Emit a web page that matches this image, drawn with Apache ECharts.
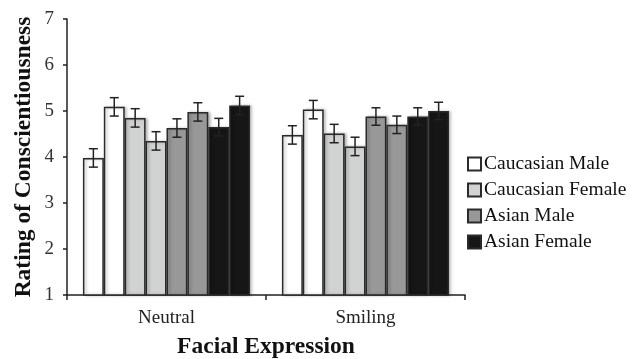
<!DOCTYPE html>
<html>
<head>
<meta charset="utf-8">
<script src="https://cdn.jsdelivr.net/npm/echarts@6/dist/echarts.min.js"></script>
<style>
  html, body { margin: 0; padding: 0; background: #fff; }
  #chart { width: 643px; height: 359px; }
</style>
</head>
<body>
<div id="chart"></div>
<script>
(function () {
    var myChart = echarts.init(document.getElementById('chart'));

    let categories = ['Neutral', 'Smiling'];
    let groupNames = ['Caucasian Male', 'Caucasian Female', 'Asian Male', 'Asian Female'];
    let groupColors = ['#ffffff', '#d1d3d2', '#989898', '#161616'];
    // two bars per group in each category, left to right
    let barGroup = [0, 0, 1, 1, 2, 2, 3, 3];
    let barValues = [
        [3.98, 4.48],
        [5.09, 5.03],
        [4.85, 4.51],
        [4.35, 4.23],
        [4.63, 4.88],
        [4.98, 4.70],
        [4.65, 4.88],
        [5.12, 5.00]
    ];
    let barErrors = [
        [0.20, 0.20],
        [0.20, 0.20],
        [0.20, 0.20],
        [0.20, 0.20],
        [0.20, 0.19],
        [0.20, 0.19],
        [0.19, 0.19],
        [0.20, 0.19]
    ];
    let yTicks = [1, 7, 1]; // min, max, interval

    const font = '"Liberation Serif", "Times New Roman", serif';
    const ink = '#222';
    const catGap = 0.16;
    const nBars = barValues.length;

    let series = [];
    for (let i = 0; i < nBars; i++) {
        series.push({
            name: groupNames[barGroup[i]],
            type: 'bar',
            barGap: 0,
            barCategoryGap: (catGap * 100) + '%',
            itemStyle: {
                color: groupColors[barGroup[i]],
                borderColor: '#2a2a2a',
                borderWidth: 1.5,
                shadowColor: 'rgba(0,0,0,0.25)',
                shadowBlur: 3,
                shadowOffsetX: 2,
                shadowOffsetY: 0
            },
            emphasis: { disabled: true },
            data: barValues[i]
        });
    }

    let errData = [];
    for (let i = 0; i < nBars; i++) {
        for (let c = 0; c < categories.length; c++) {
            errData.push([c, i, barValues[i][c] - barErrors[i][c], barValues[i][c] + barErrors[i][c]]);
        }
    }

    series.push({
        type: 'custom',
        silent: true,
        z: 5,
        renderItem: function (params, api) {
            let c = api.value(0);
            let i = api.value(1);
            let band = api.size([1, 0])[0];
            let barW = band * (1 - catGap) / nBars;
            let lo = api.coord([c, api.value(2)]);
            let hi = api.coord([c, api.value(3)]);
            let x = lo[0] + (i - (nBars - 1) / 2) * barW;
            let cap = 4.5;
            let style = { stroke: ink, lineWidth: 1.5 };
            return {
                type: 'group',
                children: [
                    { type: 'line', shape: { x1: x, y1: lo[1], x2: x, y2: hi[1] }, style: style },
                    { type: 'line', shape: { x1: x - cap, y1: lo[1], x2: x + cap, y2: lo[1] }, style: style },
                    { type: 'line', shape: { x1: x - cap, y1: hi[1], x2: x + cap, y2: hi[1] }, style: style }
                ]
            };
        },
        data: errData
    });

    var option = {
        animation: false,
        textStyle: { fontFamily: font },
        grid: {
            left: 67,
            right: 178,
            top: 19,
            bottom: 64,
            outerBoundsMode: 'none',
            containLabel: false
        },
        legend: {
            data: groupNames,
            orient: 'vertical',
            left: 467,
            top: 154,
            padding: 0,
            itemWidth: 13,
            itemHeight: 13,
            itemGap: 6,
            icon: 'rect',
            selectedMode: false,
            textStyle: { fontFamily: font, fontSize: 19.5, color: '#111', padding: [0, 0, 0, -2] }
        },
        xAxis: {
            type: 'category',
            data: categories,
            name: 'Facial Expression',
            nameLocation: 'middle',
            nameGap: 40,
            nameMoveOverlap: false,
            nameTextStyle: { fontFamily: font, fontSize: 23.5, fontWeight: 'bold', color: '#111' },
            axisLine: { lineStyle: { color: ink, width: 1.5 } },
            axisTick: { show: true, length: 5, lineStyle: { color: ink, width: 1.5 } },
            axisLabel: { fontFamily: font, fontSize: 19, color: '#222', margin: 14 }
        },
        yAxis: {
            type: 'value',
            min: yTicks[0],
            max: yTicks[1],
            interval: yTicks[2],
            name: 'Rating of Conscientiousness',
            nameLocation: 'middle',
            nameGap: 31,
            nameMoveOverlap: false,
            nameTextStyle: { fontFamily: font, fontSize: 23.5, fontWeight: 'bold', color: '#111' },
            splitLine: { show: false },
            axisLine: { show: true, lineStyle: { color: ink, width: 1.5 } },
            axisTick: { show: true, length: 4, lineStyle: { color: ink, width: 1.5 } },
            axisLabel: { fontFamily: font, fontSize: 19, color: '#333', margin: 13 }
        },
        series: series
    };

    myChart.setOption(option);
    window.addEventListener('resize', function () {
        myChart.resize();
    });
})();
</script>
</body>
</html>
